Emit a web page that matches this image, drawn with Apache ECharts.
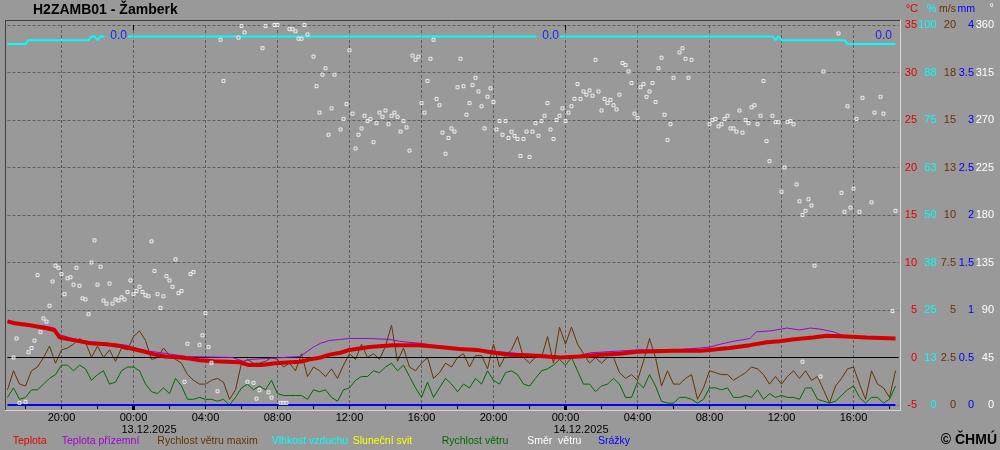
<!DOCTYPE html>
<html><head><meta charset="utf-8">
<script src="https://cdn.jsdelivr.net/npm/echarts@6/dist/echarts.min.js"></script>
<style>html,body{margin:0;padding:0;background:#999999;}#c{width:1000px;height:450px;}</style>
</head><body><div id="c"></div>
<script>
// ---------- DATA (hours relative to 13.12.2025 00:00) ----------
const tempHours = [-7.0,-6.6,-5.75,-4.9,-4.4,-4.1,-3.25,-2.4,-1.5,-0.75,0,0.65,1.2,1.75,2.6,3.1,3.7,4.5,5.9,6.4,7.1,7.9,8.7,9.25,9.8,10.4,10.9,11.5,12.0,13.1,14.4,15.9,17.0,18.1,19.1,20.0,20.9,22.2,23.7,24.8,25.9,27.0,28.0,30.0,31.5,32.0,33.1,34.25,35.2,35.9,36.6,37.75,38.5,39.6,40.7,42.33];
const tempC = [3.8,3.6,3.4,3.1,2.9,2.1,1.8,1.5,1.4,1.2,0.9,0.6,0.3,0.1,0.0,-0.1,-0.3,-0.4,-0.5,-0.8,-0.8,-0.6,-0.5,-0.45,-0.2,0.0,0.3,0.5,0.8,1.1,1.3,1.3,1.1,0.9,0.8,0.5,0.3,0.2,0.0,0.1,0.3,0.4,0.6,0.7,0.7,0.8,1.0,1.3,1.6,1.7,1.9,2.1,2.3,2.2,2.1,2.0];

const groundHours = [-7.0,-6.6,-5.75,-4.9,-4.4,-4.1,-3.4,-2.6,-0.4,0.4,1.5,3.0,5.5,6.1,6.5,9.25,10.0,10.4,10.9,11.5,12.0,13.1,14.25,14.8,15.9,17.0,18.1,19.25,20.4,21.5,23.1,24.25,25.4,25.9,28.0,30.0,31.5,32.0,32.6,33.3,34.25,34.6,35.4,36.3,37.0,37.6,38.1,38.9,39.3,39.6,40.7,42.33];
const groundC = [3.8,3.6,3.4,3.3,3.1,2.4,2.0,1.7,1.3,0.8,0.5,0.1,0.0,-0.4,-0.2,0.1,1.1,1.5,1.8,1.9,2.0,2.0,1.9,1.7,1.5,1.2,1.0,0.8,0.6,0.4,0.2,0.0,0.5,0.55,0.8,0.8,1.0,1.1,1.4,1.7,2.0,2.7,2.8,3.1,2.9,3.1,3.0,2.7,2.4,2.2,2.1,2.0];

// wind every 20 min from 12.12 17:00
const windStartHour = -7;
const windStepMin = 20;
const gustMs = [
 0.8,1.8,1.1,1.0,1.8,2.0,2.5,3.1,2.2,2.9,3.0,3.2,3.5,3.3,2.5,3.1,2.5,2.9,2.3,3.0,2.9,3.6,3.9,3.4,2.4,2.5,3.0,2.6,2.4,2.2,1.6,1.3,1.1,1.1,1.3,1.4,1.2,0.3,0.8,2.2,2.4,2.2,2.2,2.3,2.5,2.4,2.0,2.2,1.8,
 2.7,1.5,2.0,1.8,1.5,1.9,1.4,2.1,2.7,2.4,3.2,2.5,2.7,2.4,3.1,4.2,2.3,3.0,2.0,1.8,2.2,2.5,1.4,1.7,2.2,2.0,2.5,2.7,2.0,2.6,2.6,1.9,3.2,2.0,2.6,2.9,3.6,2.5,2.2,2.5,2.5,3.6,2.2,4.1,3.2,4.1,3.2,2.7,2.2,2.5,
 2.2,2.5,2.5,1.7,1.4,1.6,1.3,2.3,3.5,2.5,1.0,1.8,1.1,1.1,1.4,1.6,0.3,0.9,1.8,1.7,1.6,1.6,1.3,1.5,1.7,2.0,1.9,1.6,1.1,1.5,1.1,1.5,1.8,1.4,1.8,1.3,1.5,0.8,0.1,1.0,1.4,1.9,2.0,1.1,0.3,1.8,1.1,0.9,0.4,1.8];
const speedMs = [
 0.4,0.9,0.3,0.4,0.8,0.8,1.1,1.4,1.6,2.1,2.1,1.8,2.1,1.9,1.3,1.6,1.8,1.1,1.2,1.8,2.0,2.0,1.8,1.1,0.7,0.6,0.9,0.6,1.4,1.0,0.3,0.3,0.4,0.3,0.3,0.2,0.3,0.0,0.4,0.9,1.1,0.8,1.0,0.8,1.3,0.6,0.5,0.5,0.5,
 0.5,0.3,0.8,0.7,0.8,0.4,0.2,0.8,0.9,1.3,1.5,1.5,1.8,1.7,2.0,2.2,1.8,2.1,1.5,0.9,0.4,1.2,0.4,0.9,1.4,1.1,0.7,1.1,0.9,1.4,1.1,1.8,1.3,1.1,1.7,1.8,1.6,1.1,1.0,1.4,1.8,1.9,2.1,2.4,2.1,2.5,1.8,1.1,1.1,0.7,
 1.0,1.1,1.4,1.1,0.4,0.4,1.2,0.9,1.6,1.0,0.2,0.1,0.1,0.4,0.4,0.3,0.1,0.3,0.9,0.9,0.8,0.9,0.4,0.4,0.5,0.4,0.8,0.3,0.6,0.4,0.5,0.4,0.4,0.3,0.9,0.9,0.3,0.2,0.1,0.2,0.5,0.8,1.0,0.4,0.1,0.4,0.4,0.1,0.3,1.0];

const humHours = [-7,-6.0,-5.83,-2.5,-2.33,-2.17,-2.0,-1.83,35.5,35.67,35.83,36.0,39.5,39.67,42.33];
const humPct   = [95,95,96,96,97,97,96,97,97,96,97,96,96,95,95];

const precipHours = [-7, 42.33];
const precipMm = [0, 0];

const dailySumHours = [0, 24, 42.5];
const dailySumMm = [0.0, 0.0, 0.0];

// wind direction: 10-minute slot index from 13.12 00:00, degrees
const dirSlot = [
 -40,-39,-38,-36,-35,-34,-33,-32,-31,-30,
 -29,-28,-27,-26,-25,-24,-23,-22,-21,-20,
 -19,-18,-17,-16,-15,-14,-13,-12,-11,-10,
 -9,-8,-7,-6,-5,-4,-3,-2,-1,0,
 1,2,3,4,5,6,7,8,9,10,
 11,12,13,14,15,16,17,18,19,20,
 22,23,24,25,26,28,29,30,35,36,
 37,38,40,41,42,43,44,45,46,47,
 48,49,50,51,52,53,54,55,56,57,
 58,60,61,62,63,64,65,66,67,69,
 70,71,72,73,74,75,76,77,78,79,
 80,81,82,83,84,85,86,87,88,89,
 90,91,92,93,94,95,96,97,98,99,
 100,101,102,103,104,105,106,107,108,109,
 110,111,112,113,114,115,116,117,118,119,
 120,121,122,123,124,125,126,127,128,129,
 130,131,132,133,134,135,136,137,138,139,
 140,141,142,143,144,145,146,147,148,149,
 150,151,152,153,154,155,156,157,158,159,
 160,161,162,163,164,165,166,167,168,169,
 170,171,172,173,174,175,176,177,178,179,
 180,182,183,184,185,186,192,193,194,195,
 196,197,198,199,200,201,202,203,204,205,
 206,207,208,209,210,211,212,213,214,215,
 216,217,218,219,220,221,222,223,224,225,
 226,227,223,229,230,235,236,237,238,239,
 240,241,242,243,246,247,249,250,253,254];
const dirDeg = [
 45,63,2,3,50,54,61,123,69,82,
 79,94,117,132,130,124,105,120,121,114,
 130,113,101,100,86,135,156,114,131,99,
 96,115,96,100,99,102,100,107,118,105,
 108,112,107,104,103,155,127,105,92,103,
 122,118,112,138,106,108,22,58,124,126,
 57,66,87,55,40,13,346,307,348,359,
 353,22,21,6,14,338,359,12,7,360,
 360,2,2,2,356,356,354,347,347,360,
 351,330,302,277,313,319,256,281,313,261,
 271,285,336,276,243,256,262,274,269,271,
 249,267,277,273,279,266,274,277,273,259,
 269,263,241,331,327,330,286,277,307,328,
 346,290,284,258,238,253,262,259,301,328,
 302,275,286,303,310,297,283,262,292,300,
 287,261,269,256,269,253,259,255,252,236,
 252,259,235,259,267,255,269,274,286,261,
 252,270,274,281,269,277,283,290,304,290,
 297,294,298,293,327,297,279,290,286,289,
 284,280,294,324,322,316,305,276,272,301,
 304,292,297,305,287,319,329,275,251,266,
 310,334,338,328,310,327,266,270,271,264,
 266,271,274,262,262,259,279,258,270,267,
 282,284,266,274,307,250,231,274,268,268,
 202,225,268,269,266,209,193,180,184,195,
 189,132,41,27,316,352,201,183,283,187,
 205,271,183,291,192,277,292,276,89,184];

const midnightHours = [0, 24];
const midnightDates = ['13.12.2025', '14.12.2025'];

const legendItems = ['Teplota','Teplota přízemní','Rychlost větru maxim','Vlhkost vzduchu','Sluneční svit','Rychlost větru','Směr  větru','Srážky'];

// ---------- STYLE ----------
const FONT = '"Liberation Sans", Arial, sans-serif';
const BG = '#999999';
const C = {temp:'#d40000', tempTxt:'#e00000', ground:'#a000d0', gust:'#663300', hum:'#00ffff', sun:'#ffff00', wind:'#006a00', dir:'#ffffff', rain:'#0000ff'};
const DASH = {color:'#5e5e5e', type:[3,2], width:1};

const pairs = (xs, ys) => xs.map((x, i) => [x, ys[i]]);
const windHours = gustMs.map((_, i) => windStartHour + i * windStepMin / 60);
const pad = n => (n < 10 ? '0' : '') + n;

const hiddenX = (grid, min, max, interval) => ({gridIndex:grid, type:'value', min, max, interval, position:'bottom',
  axisLine:{show:false}, axisTick:{show:false}, axisLabel:{show:false}, splitLine:{show:false}});

const xAxes = [
  {gridIndex:0, type:'value', min:-7, max:42.5, show:false, splitLine:{show:false}},
  Object.assign(hiddenX(1, -24, 40, 4), {
    axisLabel:{show:true, color:'#000', fontSize:11, fontFamily:FONT, margin:7,
      formatter: v => v < -6 ? '' : pad(((v % 24) + 24) % 24) + ':00'},
    splitLine:{show:true, lineStyle:DASH}}),
  Object.assign(hiddenX(2, -24, 42, 2), {axisTick:{show:true, length:4, lineStyle:{color:'#000', width:1}}}),
  Object.assign(hiddenX(3, -24, 24, 24), {axisTick:{show:true, length:5, lineStyle:{color:'#000', width:3}}}),
  Object.assign(hiddenX(3, -24, 24, 24), {position:'top', axisTick:{show:true, inside:true, length:5, lineStyle:{color:'#000', width:1}}}),
  Object.assign(hiddenX(4, -24, 24, 24), {axisLabel:{show:true, color:'#000', fontSize:11, fontFamily:FONT, margin:19, align:'left',
      formatter: v => { const i = midnightHours.indexOf(v); return i >= 0 ? midnightDates[i] : ''; }}})
];

const rightY = (min, max, interval, color, margin, formatter) => ({gridIndex:0, type:'value', min, max, interval, position:'right',
  axisLine:{show:false}, axisTick:{show:false}, splitLine:{show:false},
  axisLabel:{color, align:'right', margin, fontSize:11, fontFamily:FONT, formatter}});

const yAxes = [
  Object.assign(rightY(-5, 35, 5, C.tempTxt, 18.5), {splitLine:{show:true, lineStyle:DASH}}),
  rightY(0, 100, 12.5, C.hum, 38, v => String(Math.round(v))),
  rightY(0, 20, 2.5, C.gust, 57.5, v => v >= 10 ? String(Math.round(v)) : String(v)),
  rightY(0, 4, 0.5, C.rain, 75.5),
  rightY(0, 360, 45, C.dir, 95.5),
  {gridIndex:1, show:false, min:0, max:1}, {gridIndex:2, show:false, min:0, max:1},
  {gridIndex:3, show:false, min:0, max:1}, {gridIndex:4, show:false, min:0, max:1}
];

const lineS = (name, yi, data, color, width, z) => ({type:'line', name, xAxisIndex:0, yAxisIndex:yi, data, symbol:'none',
  lineStyle:{color, width}, itemStyle:{color}, z, silent:true, animation:false, emphasis:{disabled:true}});

const legendX = [12.7, 61.7, 157.3, 271.7, 352.7, 441.7, 527.2, 598];
const legendColors = [C.tempTxt, C.ground, C.gust, C.hum, C.sun, C.wind, C.dir, C.rain];

const graphics = [
  {type:'line', shape:{x1:5.5, y1:20, x2:5.5, y2:410.5}, style:{stroke:'#404040', lineWidth:1}, z:100},
  {type:'line', shape:{x1:5, y1:20.5, x2:900.5, y2:20.5}, style:{stroke:'#404040', lineWidth:1}, z:100},
  {type:'line', shape:{x1:900.5, y1:20, x2:900.5, y2:411}, style:{stroke:'#d8d8d8', lineWidth:1}, z:100},
  {type:'line', shape:{x1:5, y1:410.5, x2:901, y2:410.5}, style:{stroke:'#d8d8d8', lineWidth:1}, z:100},
  {type:'text', x:33, y:10, style:{text:'H2ZAMB01 - Žamberk', fill:'#000', font:'bold 14px ' + FONT, align:'left', verticalAlign:'middle'}},
  {type:'text', x:918, y:9, style:{text:'°C', fill:C.tempTxt, font:'11px ' + FONT, align:'right', verticalAlign:'middle'}},
  {type:'text', x:936.5, y:9, style:{text:'%', fill:C.hum, font:'11px ' + FONT, align:'right', verticalAlign:'middle'}},
  {type:'text', x:956, y:9, style:{text:'m/s', fill:C.gust, font:'10.5px ' + FONT, align:'right', verticalAlign:'middle'}},
  {type:'text', x:975, y:9, style:{text:'mm', fill:C.rain, font:'10.5px ' + FONT, align:'right', verticalAlign:'middle'}},
  {type:'text', x:994, y:8, style:{text:'°', fill:C.dir, font:'11px ' + FONT, align:'right', verticalAlign:'middle'}},
  {type:'text', x:997, y:440, style:{text:'© ČHMÚ', fill:'#000', font:'bold 14px ' + FONT, align:'right', verticalAlign:'middle'}}
].concat(legendItems.map((t, i) => ({type:'text', x:legendX[i], y:441.5,
  style:{text:t, fill:legendColors[i], font:'10.5px ' + FONT, align:'left', verticalAlign:'middle'}})));

const G = (left, right) => ({left, right, top:25, bottom:45, outerBoundsMode:'none', containLabel:false});

const option = {
  backgroundColor: BG,
  animation: false,
  textStyle: {fontFamily: FONT},
  grid: [ G(7.5, 101.5), G(-298.5, 146.5), G(-298.5, 110.5), G(-298.5, 434.5), G(-310.5, 446.5) ],
  xAxis: xAxes,
  yAxis: yAxes,
  series: [
    lineS('Vlhkost vzduchu', 1, pairs(humHours, humPct), C.hum, 2, 2),
    lineS('Rychlost větru maxim', 2, pairs(windHours, gustMs), C.gust, 1, 3),
    lineS('Rychlost větru', 2, pairs(windHours, speedMs), C.wind, 1, 4),
    Object.assign(lineS('Teplota přízemní', 0, pairs(groundHours, groundC), C.ground, 1, 5), {
      markLine:{silent:true, symbol:'none', animation:false, label:{show:false},
        lineStyle:{color:'#000', width:1, type:'solid'}, data:[{yAxis:0}]}}),
    lineS('Teplota', 0, pairs(tempHours, tempC), C.temp, 4, 6),
    lineS('Srážky', 3, pairs(precipHours, precipMm), C.rain, 2, 7),
    {type:'scatter', name:'Směr větru', xAxisIndex:0, yAxisIndex:4, silent:true, z:8,
      data: dirSlot.map((k, i) => [k / 6, dirDeg[i]]),
      symbol:'rect', symbolSize:3, itemStyle:{color:BG, borderColor:'#ffffff', borderWidth:1}},
    {type:'scatter', name:'Srážky den', xAxisIndex:0, yAxisIndex:0, silent:true, z:9,
      data: dailySumHours.map(h => [h, 33.9]),
      symbol:'circle', symbolSize:1, itemStyle:{color:'rgba(0,0,0,0)'},
      label:{show:true, position:'left', distance:5, color:C.rain, fontSize:12, fontFamily:FONT,
        backgroundColor:BG, padding:[0,1,0,6],
        formatter: p => dailySumMm[p.dataIndex].toFixed(1)}}
  ],
  graphic: graphics
};

const chart = echarts.init(document.getElementById('c'), null, {renderer:'canvas'});
chart.setOption(option);
</script></body></html>
